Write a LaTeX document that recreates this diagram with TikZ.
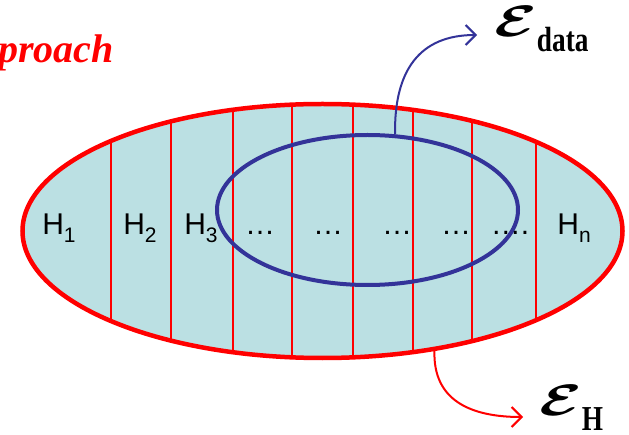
\documentclass[tikz,border=0pt]{standalone}
\usepackage{fontspec}
\setmainfont{Liberation Serif}
\setsansfont{Liberation Sans}
\usepackage{amsmath,bm,graphicx}
\usetikzlibrary{shapes.geometric,arrows.meta}

\definecolor{hypfill}{RGB}{187,224,227}
\definecolor{datablue}{RGB}{51,51,153}
\definecolor{hypred}{RGB}{255,0,0}

\newcommand{\hlab}[1]{H\raisebox{-8pt}{\fontsize{21}{21}\selectfont #1}}
\newcommand{\esym}[1]{\scalebox{6.2}[4.4]{$\bm{\mathcal{E}}$}\raisebox{-15pt}{\scalebox{0.78}[1]{\fontsize{35}{35}\selectfont\bfseries #1}}}

\begin{document}
\begin{tikzpicture}[
  x=1pt, y=1pt,
  hspace/.style={ellipse, draw=hypred, line width=4.5pt, fill=hypfill, inner sep=0pt, minimum width=600pt, minimum height=254pt},
  dspace/.style={ellipse, draw=datablue, line width=4pt, inner sep=0pt, minimum width=301pt, minimum height=150pt},
  divline/.style={hypred, line width=1.2pt},
  hlabel/.style={font=\sffamily\fontsize{30}{30}\selectfont, anchor=base, inner sep=0pt},
  elabel/.style={anchor=base west, inner sep=0pt},
  title/.style={font=\fontsize{40}{40}\selectfont\bfseries\itshape, text=hypred, anchor=base west, inner sep=0pt},
  maparr/.style={-{Straight Barb[length=10pt,width=20pt]}, line width=2pt},
]
\useasboundingbox (0,0) rectangle (629,434);

% ---------------- heading ----------------
\node[title] (approach) at (-2,371) {proach};

% ---------------- hypothesis space ----------------
\node[hspace] (hyp) at (322.5,203) {};
\begin{scope}
  \clip (hyp.center) ellipse [x radius=300pt, y radius=127pt];
  \foreach \x in {111,171,233,292,353,413,472,536}
    \draw[divline] (\x,0) -- (\x,434);
\end{scope}

% ---------------- data space ----------------
\node[dspace] (data) at (367.5,224) {};

% ---------------- cell labels ----------------
\node[hlabel] (h1) at (59,199) {\hlab{1}};
\node[hlabel] (h2) at (140,199) {\hlab{2}};
\node[hlabel] (h3) at (201,199) {\hlab{3}};
\node[hlabel] (dots1) at (260,199) {…};
\node[hlabel] (dots2) at (328,199) {…};
\node[hlabel] (dots3) at (397,199) {…};
\node[hlabel] (dots4) at (456,199) {…};
\node[hlabel] (dots5) at (510,199) {….};
\node[hlabel] (hn) at (574,199) {\hlab{n}};

% ---------------- error labels ----------------
\node[elabel] (edata) at (494,397) {\esym{data}};
\node[elabel] (ehyp) at (539,19) {\esym{H}};

\draw[maparr, datablue] (data.70) .. controls (394,364) and (420,399) .. ([xshift=-17pt,yshift=2pt]edata.base west);
\draw[maparr, hypred] (hyp.-47) .. controls (433,34) and (470,17) .. ([xshift=-16pt,yshift=-2pt]ehyp.base west);

\end{tikzpicture}
\end{document}
